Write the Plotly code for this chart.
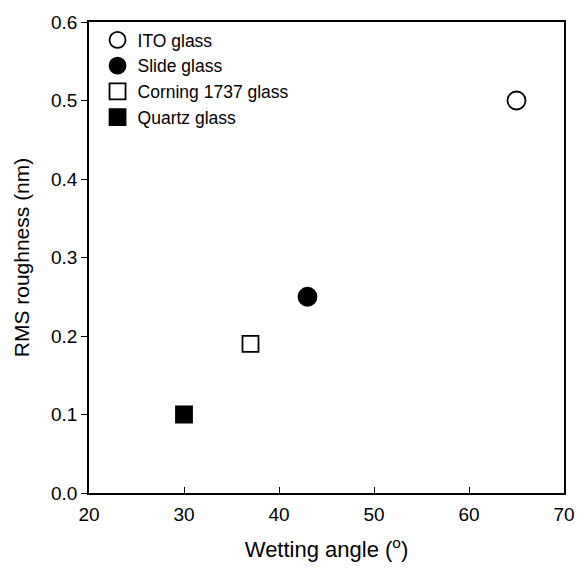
import plotly.graph_objects as go

names = ["ITO glass", "Slide glass", "Corning 1737 glass", "Quartz glass"]
wetting_angle = [65, 43, 37, 30]
rms_roughness = [0.50, 0.25, 0.19, 0.10]
symbols = ["circle-open", "circle", "square-open", "square"]
sizes = [18, 18, 16, 16]

fig = go.Figure()
for n, x, y, s, sz in zip(names, wetting_angle, rms_roughness, symbols, sizes):
    fig.add_trace(go.Scatter(
        x=[x], y=[y], mode="markers", name=n,
        marker=dict(symbol=s, size=sz, color="black", line=dict(color="black", width=1.8)),
    ))

fig.update_layout(
    width=587, height=571,
    margin=dict(l=89, r=20, t=15, b=78),
    paper_bgcolor="white", plot_bgcolor="white",
    font=dict(family="Liberation Sans, Arial, sans-serif", color="black", size=19),
    showlegend=True,
    legend=dict(x=0.018, y=1.0, xanchor="left", yanchor="top",
                bgcolor="rgba(0,0,0,0)", font=dict(size=17.5),
                tracegroupgap=0),
)
fig.update_xaxes(
    range=[20, 70], tickvals=[20, 30, 40, 50, 60, 70],
    ticks="inside", ticklen=6, tickwidth=1.2, tickcolor="black",
    showline=True, linecolor="black", linewidth=1.5, mirror=True,
    showgrid=False, zeroline=False,
    tickfont=dict(size=19), ticklabelstandoff=3,
    title=dict(text="Wetting angle (<sup>o</sup>)", font=dict(size=22), standoff=18),
)
fig.update_yaxes(
    range=[0, 0.6], tickvals=[0, 0.1, 0.2, 0.3, 0.4, 0.5, 0.6], tickformat=".1f",
    ticks="outside", ticklen=6, tickwidth=1.2, tickcolor="black",
    showline=True, linecolor="black", linewidth=1.5, mirror=True,
    showgrid=False, zeroline=False,
    tickfont=dict(size=19),
    title=dict(text="RMS roughness (nm)", font=dict(size=21), standoff=16),
)

fig.write_html("out.html")
